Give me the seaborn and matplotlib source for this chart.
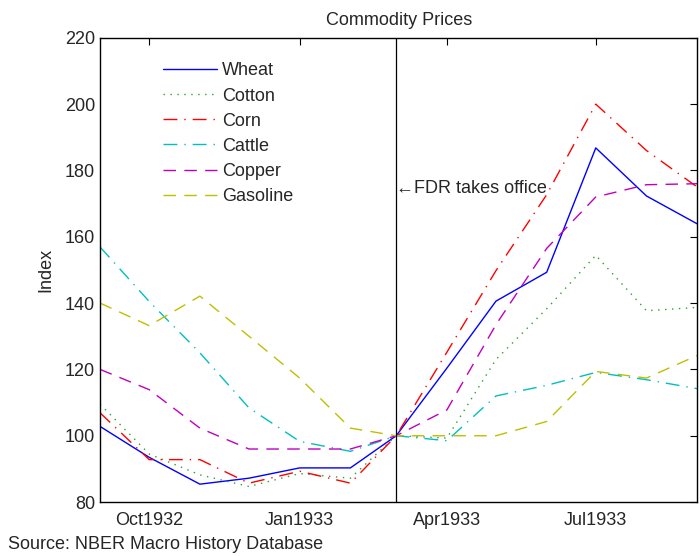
import matplotlib
matplotlib.use('Agg')
import matplotlib.pyplot as plt
import matplotlib.dates as mdates
import seaborn as sns
import pandas as pd

# Monthly index, March 1933 = 100
months = ['1932-09', '1932-10', '1932-11', '1932-12', '1933-01', '1933-02', '1933-03',
          '1933-04', '1933-05', '1933-06', '1933-07', '1933-08', '1933-09']
wheat = [102.8, 93.5, 85.4, 87.2, 90.3, 90.3, 100, 120.4, 140.6, 149.3, 186.8, 172.3, 163.9]
cotton = [109.5, 94.5, 88.2, 84.7, 88.6, 87.2, 100, 99.3, 123.0, 138.3, 154.4, 137.7, 138.7]
corn = [106.9, 92.8, 92.8, 85.7, 89.3, 85.7, 100, 125.2, 149.8, 172.7, 200.0, 186.0, 175.0]
cattle = [156.9, 140.5, 125.0, 108.4, 98.3, 95.3, 100, 98.5, 112.0, 115.2, 119.1, 116.9, 114.2]
copper = [120.0, 113.9, 102.3, 96.0, 96.0, 96.0, 100, 107.8, 133.5, 156.5, 172.0, 175.7, 176.0]
gasoline = [140.0, 133.2, 142.1, 130.0, 117.4, 102.3, 100, 100.0, 100.0, 104.3, 119.4, 117.4, 124.2]

series = ['Wheat', 'Cotton', 'Corn', 'Cattle', 'Copper', 'Gasoline']
values = [wheat, cotton, corn, cattle, copper, gasoline]
colors = ['#0000ff', '#2ca02c', '#ff0000', '#00bfbf', '#bf00bf', '#bfbf00']
styles = ['-', (0, (1, 4)), (0, (10, 5, 1, 5)), (0, (10, 5, 1, 5)), (0, (9, 6)), (0, (9, 6))]

fdr_date = '1933-03'
tick_months = ['1932-10', '1933-01', '1933-04', '1933-07']

df = pd.DataFrame({'date': pd.to_datetime(months)})
for name, vals in zip(series, values):
    df[name] = vals

sns.set_style('white')
plt.rcParams['font.family'] = ['Liberation Sans', 'DejaVu Sans']

fig = plt.figure(figsize=(7, 5.56), dpi=100)
ax = fig.add_axes([0.143, 0.097, 0.853, 0.835])

for name, col, ls in zip(series, colors, styles):
    sns.lineplot(data=df, x='date', y=name, ax=ax, color=col, linestyle=ls,
                 linewidth=1.0, label=name)

# vertical marker for inauguration
ax.axvline(pd.to_datetime(fdr_date), color='black', linewidth=0.9)
ax.text(pd.to_datetime(fdr_date), 174.6, '\u2190FDR takes office', fontsize=13,
        ha='left', va='center', family=['Liberation Sans', 'DejaVu Sans'])

ax.set_xlim(pd.to_datetime(months[0]), pd.to_datetime(months[-1]))
ax.set_ylim(80, 220)
ax.set_yticks(range(80, 221, 20))
ax.set_xticks(pd.to_datetime(tick_months))
ax.xaxis.set_major_formatter(mdates.DateFormatter('%b%Y'))
ax.tick_params(direction='in', length=5, top=True, right=True, labelsize=13,
               color='black', width=0.8)
ax.tick_params(axis='x', pad=7)
for sp in ax.spines.values():
    sp.set_color('black')
    sp.set_linewidth(1.0)

ax.set_xlabel('')
ax.set_ylabel('Index', fontsize=13, labelpad=8)
ax.set_title('Commodity Prices', fontsize=13, pad=9)

ax.legend(loc='upper left', bbox_to_anchor=(0.078, 0.982), frameon=False, fontsize=13,
          handlelength=3.0, labelspacing=0.45, handletextpad=0.28)

fig.text(0.011, 0.013, 'Source: NBER Macro History Database', fontsize=13)

fig.savefig('out.png', dpi=100)
